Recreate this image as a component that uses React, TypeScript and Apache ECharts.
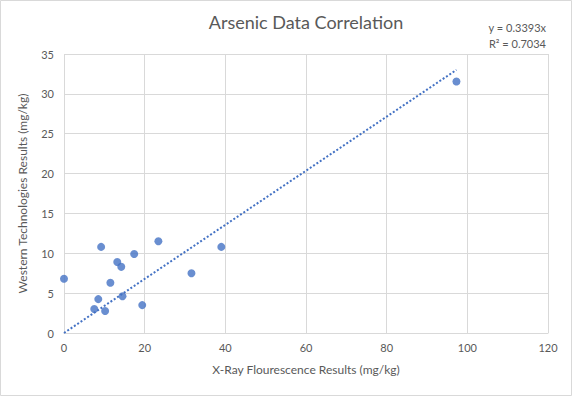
import React, { useEffect, useRef } from "react";
import * as echarts from "echarts";

const xValues = [0, 9.2, 23.4, 17.4, 13.2, 14.2, 11.5, 31.6, 8.5, 14.5, 7.5, 10.2, 19.4, 39.0, 97.3];
const yValues = [6.8, 10.8, 11.5, 9.9, 8.9, 8.3, 6.3, 7.5, 4.25, 4.6, 3.0, 2.75, 3.5, 10.8, 31.55];
const trendX = [0, 97.3];
const trendY = [0, 33.01];
const titleText = "Arsenic Data Correlation";
const equationLines = ["y = 0.3393x", "R² = 0.7034"];
const xAxisName = "X-Ray Flourescence Results (mg/kg)";
const yAxisName = "Western Technologies Results (mg/kg)";

const FONT = "Lato, 'Open Sans', sans-serif";
const TEXT = "#595959";
const BLUE = "#4472C4";

export default function App() {
  const ref = useRef<HTMLDivElement>(null);
  useEffect(() => {
    if (!ref.current) return;
    const chart = echarts.init(ref.current, undefined, { renderer: "svg" });
    chart.setOption({
      animation: false,
      backgroundColor: "#ffffff",
      textStyle: { fontFamily: FONT },
      title: {
        text: titleText,
        left: 301,
        top: 8,
        textAlign: "center",
        textStyle: { fontFamily: FONT, fontSize: 18, fontWeight: "normal", color: TEXT },
      },
      graphic: [
        {
          type: "rect",
          shape: { x: 0.5, y: 0.5, width: 571, height: 395 },
          style: { fill: "none", stroke: "#d9d9d9", lineWidth: 1 },
          silent: true,
          z: -1,
        },
        {
          type: "text",
          x: 546,
          y: 19,
          style: {
            text: equationLines.join("\n"),
            fontFamily: FONT,
            fontSize: 11,
            lineHeight: 16,
            fill: TEXT,
            align: "right",
            verticalAlign: "top",
          },
        },
      ],
      grid: { left: 64, right: 24, top: 54, bottom: 63 },
      xAxis: {
        type: "value",
        min: 0,
        max: 120,
        interval: 20,
        name: xAxisName,
        nameLocation: "middle",
        nameGap: 30,
        nameTextStyle: { fontFamily: FONT, fontSize: 12, color: TEXT },
        axisLine: { show: true, onZero: false, lineStyle: { color: "#d9d9d9" } },
        axisTick: { show: false },
        axisLabel: { fontFamily: FONT, fontSize: 11, color: TEXT, margin: 9 },
        splitLine: { show: true, lineStyle: { color: "#d9d9d9" } },
      },
      yAxis: {
        type: "value",
        min: 0,
        max: 35,
        interval: 5,
        name: yAxisName,
        nameLocation: "middle",
        nameGap: 36,
        nameTextStyle: { fontFamily: FONT, fontSize: 12, color: TEXT },
        axisLine: { show: false },
        axisTick: { show: false },
        axisLabel: { fontFamily: FONT, fontSize: 11, color: TEXT, margin: 10 },
        splitLine: { show: true, lineStyle: { color: "#d9d9d9" } },
      },
      series: [
        {
          type: "line",
          data: trendX.map((x, i) => [x, trendY[i]]),
          showSymbol: false,
          symbol: "none",
          lineStyle: { color: BLUE, width: 2, type: [2, 2] },
          z: 1,
        },
        {
          type: "scatter",
          data: xValues.map((x, i) => [x, yValues[i]]),
          symbolSize: 8,
          itemStyle: { color: BLUE },
          z: 2,
        },
      ],
    });
    return () => chart.dispose();
  }, []);
  return (
    <div
      ref={ref}
      style={{ position: "absolute", left: 0, top: 0, width: 572, height: 396 }}
    />
  );
}
